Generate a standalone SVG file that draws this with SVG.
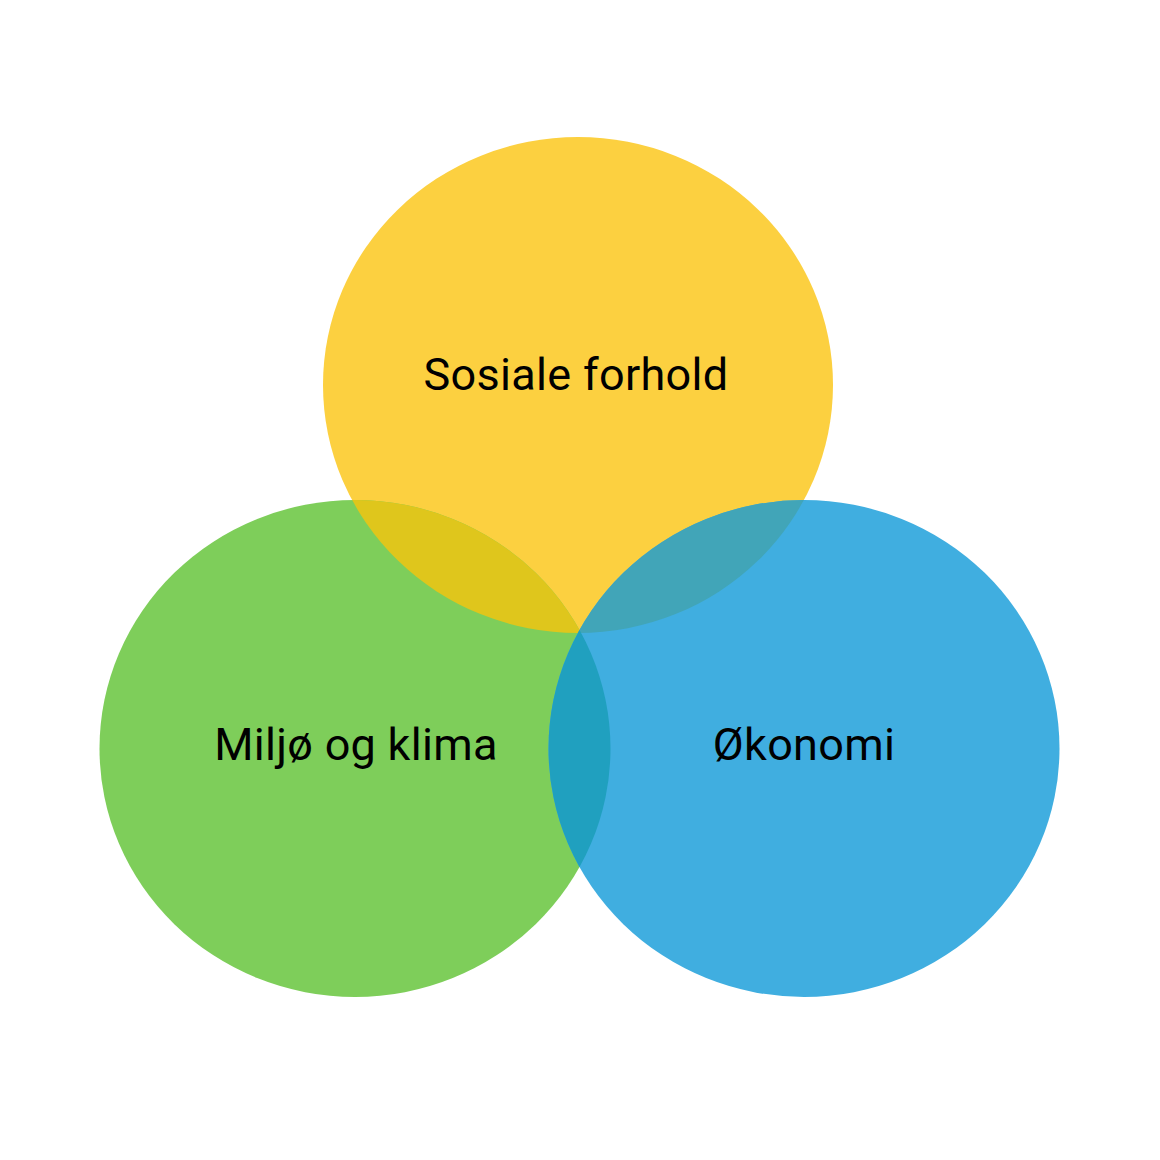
<svg xmlns="http://www.w3.org/2000/svg" width="1160" height="1160" viewBox="0 0 1160 1160">
<style>
.lbl{font-family:Roboto,"Liberation Sans",sans-serif;font-size:45px;letter-spacing:0.3px;fill:#000;text-anchor:middle}
</style>
<defs>
<ellipse id="eY" cx="578" cy="385" rx="255" ry="248"/>
<ellipse id="eG" cx="355" cy="748.5" rx="255.5" ry="248.5"/>
<ellipse id="eB" cx="804" cy="748.5" rx="255.5" ry="248.5"/>
<clipPath id="cY"><use href="#eY"/></clipPath>
<clipPath id="cG"><use href="#eG"/></clipPath>
</defs>
<rect width="1160" height="1160" fill="#fff"/>
<g id="sosiale"><use href="#eY" fill="#FCD040"/></g>
<g id="miljo"><use href="#eG" fill="#7ECE5A"/></g>
<g id="okonomi"><use href="#eB" fill="#40AEE0"/></g>
<g id="overlaps">
<use href="#eG" fill="#DFC61C" clip-path="url(#cY)"/>
<use href="#eB" fill="#41A5B8" clip-path="url(#cY)"/>
<use href="#eB" fill="#20A0BF" clip-path="url(#cG)"/>
</g>
<g id="labels">
<text class="lbl" x="576" y="390">Sosiale forhold</text>
<text class="lbl" x="356" y="760">Miljø og klima</text>
<text class="lbl" x="804" y="760">Økonomi</text>
</g>
</svg>
